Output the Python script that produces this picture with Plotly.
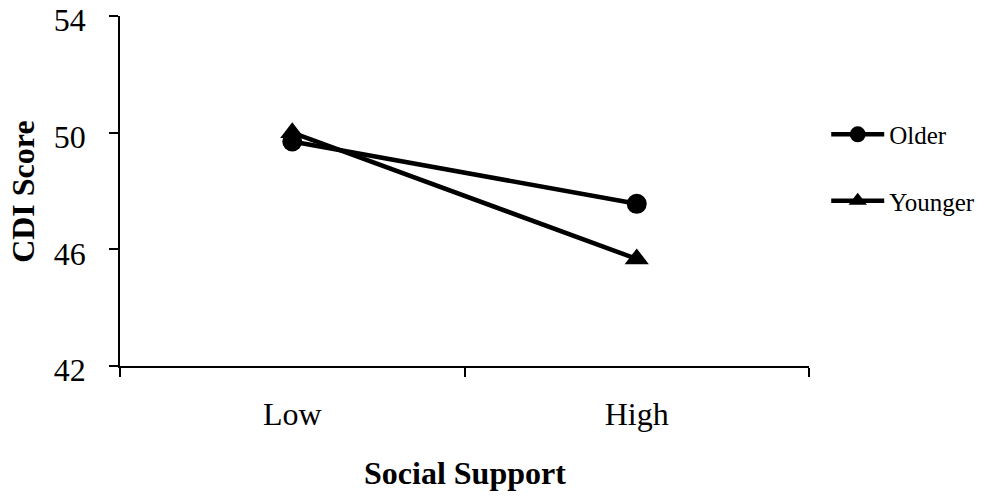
import plotly.graph_objects as go

categories = ["Low", "High"]
older = [49.70, 47.56]
younger = [50.0, 45.67]
y_ticks = [42, 46, 50, 54]
x_title = "Social Support"
y_title = "CDI Score"

fig = go.Figure()
fig.add_trace(go.Scatter(x=categories, y=older, name="Older", mode="lines+markers",
                         line=dict(color="black", width=4.5),
                         marker=dict(symbol="circle", size=20, color="black"),
                         legendgroup="a"))
fig.add_trace(go.Scatter(x=categories, y=younger, name="Younger", mode="lines+markers",
                         line=dict(color="black", width=4.5),
                         marker=dict(symbol="triangle-up", size=21, color="black"),
                         legendgroup="b"))

fig.update_layout(
    template="none",
    width=986, height=499,
    margin=dict(l=120, r=177, t=16, b=133, pad=0, autoexpand=False),
    plot_bgcolor="white", paper_bgcolor="white",
    font=dict(family="Liberation Serif", size=32, color="black"),
    showlegend=True,
    legend=dict(x=1.025, y=0.727, xanchor="left", yanchor="top",
                font=dict(size=25), tracegroupgap=31, itemwidth=53,
                bgcolor="rgba(0,0,0,0)", borderwidth=0),
    xaxis=dict(type="category", range=[-0.5, 1.5], tickson="boundaries",
               ticks="outside", ticklen=9, tickwidth=1.5, tickcolor="black",
               ticklabelstandoff=19, automargin=False,
               showline=True, linecolor="black", linewidth=1.5, showgrid=False,
               zeroline=False),
    yaxis=dict(range=[42, 54], tickvals=y_ticks, ticks="outside", ticklen=9,
               tickwidth=1.5, tickcolor="black", ticklabelstandoff=17,
               ticklabelshift=4,
               ticklabeloverflow="allow", automargin=False,
               showline=True, linecolor="black", linewidth=1.5, showgrid=False,
               zeroline=False),
    annotations=[
        dict(text="<b>" + x_title + "</b>", xref="paper", yref="paper",
             x=0.5, y=-0.307, xanchor="center", yanchor="middle",
             showarrow=False, font=dict(size=32)),
        dict(text="<b>" + y_title + "</b>", xref="paper", yref="paper",
             x=-0.1410, y=0.5, xanchor="center", yanchor="middle",
             textangle=-90, showarrow=False, font=dict(size=32)),
    ],
)

fig.write_html("out.html", config={"displayModeBar": False},
               post_script="document.body.style.margin='0';document.body.style.overflow='hidden';")
